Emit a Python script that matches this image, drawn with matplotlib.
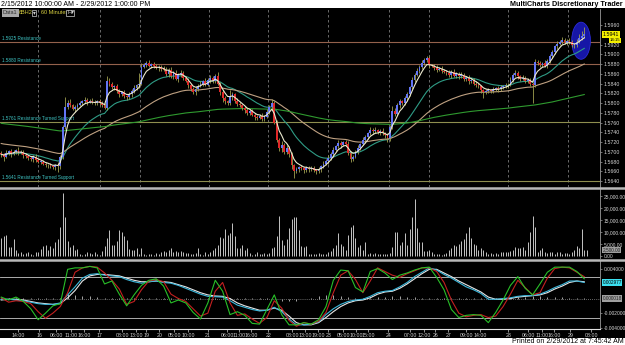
import numpy as np
import pandas as pd
import matplotlib
matplotlib.use('Agg')
import matplotlib.pyplot as plt
from matplotlib.patches import Ellipse, Rectangle
from matplotlib.lines import Line2D

plt.rcParams['font.family'] = ['Liberation Sans', 'DejaVu Sans']

# ---- data -----------------------------------------------------------------
base = 1.5600
# hourly closes, pips above 1.5600
close_pips = [95, 90, 98, 102, 96, 100, 104, 98,
              100, 94, 92, 88, 85, 90, 84, 80,
              80, 76, 72, 74, 70, 68, 74, 70,
              90, 150, 192,
              200, 195, 188, 192, 196, 200, 204, 206, 203, 205, 202, 200, 204, 201, 196, 190,
              245, 240, 232, 235, 225, 218, 222, 214,
              212, 218, 225, 230, 236,
              240, 274, 278, 282, 276, 280, 276, 272, 274, 270, 268,
              260, 268, 255, 262, 250, 258, 262, 252, 246,
              236, 228, 222, 228, 235,
              240, 245, 238, 248, 252, 246, 256,
              240, 222, 210, 204,
              200, 212, 218, 205, 198,
              195, 190, 186, 180, 183, 176, 172,
              170, 174, 168, 172,
              182, 192, 200,
              160, 125, 108,
              115, 100, 108, 95,
              72, 60,
              64, 68, 66, 63, 67, 64, 66, 62,
              60, 64, 70, 76, 82, 88,
              95, 104, 112, 118, 114, 120, 116,
              98, 86,
              90, 100, 108, 116, 124, 130,
              138, 145, 142, 144, 140, 143, 138, 134, 128,
              150, 184, 178, 195, 204, 200, 210, 218,
              232, 248, 258, 266, 274, 282, 288, 292,
              278, 276, 272, 268, 270, 266, 264,
              262, 258, 264, 256, 260, 255, 258,
              250, 252, 246, 248, 240, 238, 234,
              226, 222,
              224, 226, 225, 228, 230, 228, 232, 234, 236, 238,
              248, 258, 262,
              255, 250, 252, 246, 248,
              240, 236,
              284, 282,
              278, 282, 276, 286,
              296, 305, 316, 322,
              326, 330, 324, 328, 325,
              320, 318,
              326, 334, 338, 341]
open0 = 97
# wick lengths in pips above / below the body
hi_w = [4, 3, 5, 2, 4, 3, 2, 5, 3, 4, 3, 2, 4, 3, 5, 3, 2, 4, 3, 2,
        3, 4, 2, 5, 3, 4, 20, 6, 8, 4, 3, 5, 4, 3, 6, 4, 3, 5, 4, 3,
        4, 3, 5, 11, 6, 4, 3, 5, 4, 3, 4, 3, 5, 4, 6, 4, 22, 8, 5, 4,
        6, 3, 4, 5, 3, 4, 6, 5, 4, 6, 3, 5, 4, 6, 3, 4, 5, 3, 4, 6,
        4, 5, 3, 6, 4, 5, 3, 4, 8, 3, 4, 5, 3, 14, 4, 3, 5, 4, 3, 4,
        3, 5, 4, 3, 4, 3, 5, 4, 6, 4, 8, 5, 6, 3, 8, 4, 6, 3, 4, 3,
        4, 3, 5, 3, 4, 3, 4, 5, 3, 4, 3, 5, 4, 6, 4, 5, 3, 6, 4, 3,
        5, 6, 4, 3, 4, 5, 3, 6, 4, 3, 5, 4, 6, 3, 4, 5, 3, 4, 6, 10,
        5, 6, 4, 3, 5, 4, 3, 6, 4, 5, 3, 6, 4, 4, 5, 3, 4, 6, 3, 5,
        4, 3, 5, 4, 6, 3, 4, 5, 3, 4, 6, 3, 4, 5, 3, 4, 3, 4, 5, 3,
        4, 3, 5, 4, 3, 6, 4, 5, 3, 6, 4, 3, 5, 4, 3, 4, 3, 6, 4, 5,
        3, 6, 4, 5, 3, 4, 6, 3, 5, 4, 3, 5, 4, 3, 6, 8, 10, 15]
lo_w = [5, 8, 3, 4, 6, 3, 4, 5, 3, 6, 4, 5, 3, 6, 4, 3, 5, 4, 3, 6,
        4, 3, 5, 11, 6, 4, 3, 5, 4, 3, 6, 4, 3, 5, 4, 6, 3, 4, 5, 3,
        4, 5, 3, 4, 6, 3, 5, 4, 6, 3, 4, 5, 3, 6, 4, 3, 5, 4, 3, 4,
        3, 5, 4, 3, 6, 4, 3, 5, 6, 4, 5, 3, 6, 4, 5, 3, 6, 4, 3, 5,
        4, 3, 5, 4, 3, 6, 4, 5, 3, 6, 8, 5, 4, 3, 6, 4, 5, 3, 4, 6,
        4, 5, 3, 6, 4, 3, 5, 4, 3, 4, 6, 3, 5, 6, 8, 5, 4, 6, 8, 14,
        4, 5, 3, 6, 4, 5, 3, 4, 6, 3, 5, 4, 3, 6, 4, 5, 3, 4, 6, 3,
        4, 5, 6, 4, 3, 5, 4, 3, 6, 4, 3, 5, 4, 3, 6, 4, 5, 8, 6, 4,
        4, 3, 5, 4, 3, 5, 4, 3, 4, 3, 5, 4, 3, 4, 6, 3, 5, 4, 3, 4,
        3, 5, 4, 6, 3, 4, 5, 3, 4, 5, 6, 4, 3, 5, 4, 6, 12, 4, 3, 5,
        4, 3, 5, 4, 3, 4, 5, 3, 4, 3, 5, 4, 3, 5, 4, 6, 36, 4, 3, 5,
        4, 3, 5, 4, 3, 4, 5, 3, 4, 3, 5, 4, 6, 5, 4, 3, 5, 4]

volume = [7400, 8300, 8800, 3900, 3900, 7000, 2500, 1100, 1400, 800,
          1100, 1400, 800, 400, 1400, 1400, 2800, 4200, 4600, 2500,
          4200, 3200, 5600, 7000, 12200, 26100, 16400, 6000, 3900, 4600,
          2500, 2800, 800, 400, 800, 1800, 1100, 800, 1400, 800,
          400, 2200, 4200, 7400, 10800, 4600, 4600, 6000, 10800, 10100,
          8300, 6700, 2800, 2500, 2500, 3200, 800, 3200, 800, 400,
          800, 800, 400, 1100, 800, 1800, 2200, 1800, 2500, 3200,
          1800, 2200, 1800, 2100, 1400, 1100, 1100, 800, 800, 1100,
          3200, 800, 400, 1400, 800, 1800, 2500, 3200, 4600, 7800,
          7400, 11100, 8800, 9500, 13600, 8300, 3200, 3200, 4600, 2500,
          3200, 1100, 400, 800, 1400, 800, 800, 1100, 800, 1100,
          3200, 3900, 8300, 16700, 6700, 4600, 7000, 11500, 15300, 16400,
          16100, 10800,
          4200, 3900, 4200, 800, 800, 800, 800, 1100, 800, 800,
          800, 1400, 2200, 3200, 4600, 9500, 5000, 4200, 2500, 8800,
          12200, 12900, 7400, 3900, 4600, 2500, 5600, 800, 1100, 800,
          1100, 800, 800, 800, 800, 800, 1100, 3900, 10100, 10100,
          4600, 5600, 9700, 4600, 11100, 16400, 23800, 11500, 5600, 5600,
          2200, 2200, 2500, 1400, 800, 800, 800, 400, 800, 1100,
          2500, 3200, 4600, 4200, 5000, 6000, 7000, 9500, 12200, 7400,
          5000, 4600, 2500, 3200, 2500, 1400, 800, 1100, 800, 1100,
          800, 1400, 1800, 1400, 1400, 2200, 2500, 3900, 3200, 3200,
          3900, 2500, 5600, 10100, 16700, 12200, 1800, 2500, 3200, 1800,
          1100, 1800, 1400, 800, 1400, 1800, 800, 1100, 1100, 800,
          1800, 2500, 4200, 3200, 11100, 2500, 2500]

ma_span = [5, 20, 50, 200]
ma_seed = [95, 95, 118, 159]
ma_colors = ['#ecead0', '#2f9c86', '#bfa182', '#2f9a2f']

levels = [1.5925, 1.5880, 1.5761, 1.5641]
level_names = ['1.5925 Resistance', '1.5880 Resistance',
               '1.5761 Resistance Turned Support', '1.5641 Resistance Turned Support']
level_colors = ['#94614c', '#94614c', '#8e8e4e', '#8e8e4e']

# oscillator, read every 3rd bar (units of 0.001)
osc_step = 3
osc_green = [0.2, -0.2, 0.2, -0.4, -1.4, -2.9, -2.0, -1.0, -0.7, 4.0,
             4.2, 4.2, 4.4, 4.2, 2.0, 2.4, 0.6, -1.0, 0.5, 1.8,
             2.5, 2.7, 1.7, -0.6, -0.2, -0.6, -1.9, -2.8, -0.6, 2.5,
             1.0, -2.2, -1.8, -2.3, -3.4, -3.5, -1.5, 0.5, -2.2, -3.6,
             -3.6, -3.3, -3.5, -2.9, -1.1, 2.5, 3.9, 3.8, 1.5, 0.9,
             3.7, 4.1, 3.5, 2.6, 3.2, 3.5, 3.9, 4.2, 4.3, 2.9,
             1.2, -1.5, -2.6, -2.3, -2.2, -2.3, -3.3, -1.9, -0.2, 1.8,
             3.0, 1.4, 0.5, 2.0, 3.6, 4.3, 4.3, 4.3, 3.7, 2.7]
osc_red = [0.1, -0.5, -0.3, -0.4, -0.7, -1.8, -2.7, -2.0, -1.1, 0.8,
           3.6, 4.2, 4.4, 4.3, 3.5, 2.5, 1.3, -0.8, -0.4, 1.2,
           2.4, 2.6, 2.3, 0.6, 0.0, -0.4, -1.4, -2.4, -2.0, 1.0,
           2.2, -0.6, -2.3, -2.1, -2.8, -3.4, -2.6, -0.3, -1.3, -3.0,
           -3.8, -3.3, -3.5, -3.1, -1.9, 0.8, 3.2, 3.8, 2.6, 0.8,
           2.4, 4.2, 3.7, 3.2, 2.9, 3.4, 3.8, 4.2, 4.2, 3.7,
           2.2, -0.2, -2.0, -2.5, -2.3, -2.2, -2.6, -2.4, -1.1, 0.6,
           2.5, 1.5, 0.5, 0.8, 2.8, 4.1, 4.3, 4.2, 3.6, 3.0]
osc_cyan = [-0.1, -0.1, -0.2, -0.3, -0.5, -0.7, -0.8, -0.8, -0.6, 0.5,
            1.6, 2.8, 3.3, 3.4, 3.2, 3.1, 3.0, 2.6, 2.3, 2.1,
            2.3, 2.4, 2.2, 2.1, 1.8, 1.4, 1.0, 0.6, 0.3, 0.25,
            0.2, -0.3, -0.9, -1.2, -1.5, -1.7, -1.6, -1.2, -1.8, -2.8,
            -3.6, -3.6, -3.5, -3.2, -2.2, -1.4, -0.8, -0.4, -0.2, -0.1,
            0.3, 0.8, 1.0, 1.1, 1.6, 2.2, 3.0, 3.6, 4.2, 3.9,
            3.3, 2.8, 2.2, 1.6, 1.2, 0.7, -0.1, -0.1, 0.0, 0.1,
            0.3, 0.4, 0.4, 0.6, 1.0, 1.5, 1.9, 2.4, 2.4, 2.2]
osc_white = [-0.2, -0.1, -0.1, -0.2, -0.4, -0.6, -0.7, -0.8, -0.7, 0.1,
             1.1, 2.4, 3.1, 3.3, 3.3, 3.2, 3.1, 2.8, 2.5, 2.3,
             2.3, 2.4, 2.3, 2.2, 1.9, 1.6, 1.2, 0.8, 0.5, 0.35,
             0.3, 0.0, -0.6, -1.0, -1.3, -1.6, -1.6, -1.3, -1.6, -2.4,
             -3.3, -3.6, -3.6, -3.3, -2.6, -1.8, -1.1, -0.6, -0.3, -0.2,
             0.1, 0.6, 0.9, 1.0, 1.4, 2.0, 2.7, 3.4, 4.0, 4.0,
             3.5, 3.0, 2.4, 1.9, 1.4, 0.9, 0.2, -0.1, -0.1, 0.0,
             0.2, 0.3, 0.4, 0.5, 0.8, 1.3, 1.7, 2.2, 2.4, 2.3]
osc_hist = [0.05, 0.05, 0.05, 0.05, 0.05, 0.05, 0.05, 0.05, 0.05, 0.65,
            0.5, 0.4, 0.3, 0.2, 0.1, 0.05, 0.05, 0.05, 0.05, 0.05,
            0.05, 0.05, 0.05, 0.05, 0.05, 0.05, 0.05, 0.05, 0.05, 0.05,
            0.05, 0.05, 0.05, 0.05, 0.05, 0.05, 0.05, -0.1, -0.3, -0.4,
            -0.3, -0.1, 0.05, 0.4, 0.5, 0.45, 0.35, 0.25, 0.1, 0.05,
            0.1, 0.2, 0.25, 0.3, 0.3, 0.25, 0.2, 0.1, 0.05, 0.05,
            0.05, 0.05, 0.05, 0.05, 0.05, 0.05, 0.05, 0.05, 0.05, 0.1,
            0.2, 0.25, 0.3, 0.3, 0.25, 0.2, 0.15, 0.1, 0.05, 0.05]
osc_bands = [2.97, -2.7]
osc_value_labels = ['0.002977', '0.000018']

# x axis: day breaks and time labels (bar index)
day_breaks = [15, 40, 56.5, 84.5, 108.5, 133, 157.5, 174, 206, 230.5]
tick_pos = [7, 15.4, 22.4, 28.5, 33.7, 39.8, 49.2, 54.9, 58.9, 64.2, 70.3, 76, 84.1,
            91.9, 96.7, 101.6, 108.5, 118.3, 123.6, 128.9, 132.9, 139, 144.3, 149.2,
            157.3, 166.3, 172, 176.4, 181.7, 189, 194.7, 206.1, 214.2, 219.9, 224.8,
            231.3, 239.8]
tick_lab = ['14:00', '16', '06:00', '11:00', '16:00', '17', '08:00', '13:00', '19', '20',
            '05:00', '10:00', '21', '06:00', '11:00', '16:00', '22', '08:00', '13:00',
            '19:00', '23', '05:00', '10:00', '15:00', '24', '07:00', '12:00', '26', '27',
            '09:00', '14:00', '28', '06:00', '11:00', '16:00', '29', '08:00']

# ---- prep -----------------------------------------------------------------
c = base + np.array(close_pips) / 10000
o = np.r_[base + open0 / 10000, c[:-1]]
x = np.arange(len(c))
body_lo = np.minimum(o, c)
body_hi = np.maximum(o, c)
hi = body_hi + np.array(hi_w) / 10000
lo = body_lo - np.array(lo_w) / 10000
up = c >= o

W, H = 625, 345


def box(x0, y0, x1, y1):
    return [x0 / W, 1 - y1 / H, (x1 - x0) / W, (y1 - y0) / H]


fig = plt.figure(figsize=(W / 100, H / 100), dpi=100, facecolor='white')
fig.patches.append(Rectangle((0, 1 - 338 / H), 1, 330 / H, transform=fig.transFigure,
                             facecolor='black', edgecolor='none', zorder=-5))

ax_p = fig.add_axes(box(0, 9, 600, 187))
ax_v = fig.add_axes(box(0, 189, 600, 258))
ax_o = fig.add_axes(box(0, 261, 600, 329))
XL = (-0.5, 243.4)

for ax in (ax_p, ax_v, ax_o):
    ax.set_facecolor('black')
    ax.set_xlim(*XL)
    for s in ('top', 'left', 'bottom'):
        ax.spines[s].set_visible(False)
    ax.spines['right'].set_color('#9a9a9a')
    ax.spines['right'].set_linewidth(0.6)
    ax.yaxis.tick_right()
    ax.tick_params(axis='y', length=1.5, width=0.5, color='#a0a0a0', labelcolor='#d4d4d4',
                   labelsize=3.5, pad=1.2)
    ax.tick_params(axis='x', bottom=False, labelbottom=False)

# ---- price panel -----------------------------------------------------------
ax_p.set_ylim(1.56279, 1.59928)
for b in day_breaks:
    ax_p.axvline(b, color='#7a7a7a', lw=0.6, ls=(0, (3, 3)), zorder=1)
for lv, nm, col in zip(levels, level_names, level_colors):
    ax_p.axhline(lv, color=col, lw=0.8, zorder=1)
    ax_p.text(0.3, lv + 0.0002, nm, color='#3fc6c6', fontsize=3.3, va='bottom', ha='left')

ell = Ellipse((x[-1] - 1.3, c[-4:].mean() - 0.0007), width=7.6, height=0.0076,
              facecolor='#1616a6', edgecolor='#2c2cd8', lw=0.6, zorder=2)
ax_p.add_patch(ell)

for span, seed, col in zip(ma_span, ma_seed, ma_colors):
    s = pd.Series(np.r_[base + seed / 10000, c])
    ema = s.ewm(span=span, adjust=False).mean().values[1:]
    ax_p.plot(x, ema, color=col, lw=0.8, zorder=5 if span == 5 else 3)

ax_p.vlines(x, lo, hi, color='#a0a050', lw=0.6, zorder=3)
ax_p.bar(x, np.maximum(body_hi - body_lo, 0.00015), bottom=body_lo, width=0.75,
         color=np.where(up, '#6375f5', '#e02828'), lw=0, zorder=4)

pt = [v for v in np.arange(1.5640, 1.59601, 0.002) if abs(v - 1.5940) > 1e-6]
ax_p.set_yticks(pt)
ax_p.yaxis.set_major_formatter(plt.FormatStrFormatter('%.4f'))
ax_p.tick_params(axis='y', labelsize=3.8)
yt = ax_p.get_yaxis_transform()
ax_p.text(1.004, c[-1], f'{c[-1]:.4f}', transform=yt, fontsize=3.8, color='black',
          va='center', ha='left', bbox=dict(boxstyle='square,pad=0.15', fc='#f5f000', ec='none'))
ax_p.text(1.016, c[-1] - 0.0012, '14:15', transform=yt, fontsize=3.1, color='black',
          va='center', ha='left', bbox=dict(boxstyle='square,pad=0.1', fc='#f5f000', ec='none'))

# legend row
fig.text(3 / W, 1 - 13 / H, 'Data1', fontsize=4, color='#303030', va='center',
         bbox=dict(boxstyle='square,pad=0.2', fc='#a8a8a8', ec='none'))
fig.text(19 / W, 1 - 13 / H, '6BH2', fontsize=4, color='#d8d040', va='center')
fig.text(33 / W, 1 - 13 / H, '\u25be', fontsize=4, color='#d0d0d0', va='center',
         bbox=dict(boxstyle='square,pad=0.1', fc='black', ec='#d0d0d0', lw=0.5))
fig.text(41 / W, 1 - 13 / H, '60 Minutes', fontsize=4, color='#d8d040', va='center')
fig.text(67 / W, 1 - 13 / H, 'H\u25be', fontsize=4, color='#d0d0d0', va='center',
         bbox=dict(boxstyle='square,pad=0.1', fc='black', ec='#d0d0d0', lw=0.5))

# ---- volume panel ----------------------------------------------------------
xv = np.arange(len(volume))
ax_v.vlines(xv, 0, volume, color='#c4c4c4', lw=0.7)
ax_v.set_ylim(-900, 27900)
ax_v.set_yticks([0, 5000, 10000, 15000, 20000, 25000])
ax_v.set_yticklabels([f'{v:,.2f}' for v in [0, 5000, 10000, 15000, 20000, 25000]])
ax_v.text(1.004, volume[-1], f'{volume[-1]:,.2f}', transform=ax_v.get_yaxis_transform(),
          fontsize=3.4, color='#202020', va='center', ha='left',
          bbox=dict(boxstyle='square,pad=0.12', fc='#a0a0a0', ec='none'))

# ---- oscillator panel -------------------------------------------------------
xo = np.arange(len(osc_green)) * osc_step
k = 0.001
ax_o.set_ylim(-4.17 * k, 5.14 * k)
ax_o.axhline(0, color='#8a8a8a', lw=0.6, ls=(0, (1, 1.5)))
for bnd in osc_bands:
    ax_o.axhline(bnd * k, color='#c8c8c8', lw=0.6)
ax_o.vlines(xo, 0, np.array(osc_hist) * k, color='#a8a8a8', lw=0.7)
ax_o.plot(xo, np.array(osc_white) * k, color='#e6e6e6', lw=0.8)
ax_o.plot(xo, np.array(osc_cyan) * k, color='#3cb8dc', lw=0.8)
ax_o.plot(xo, np.array(osc_red) * k, color='#c42020', lw=0.8)
ax_o.plot(xo, np.array(osc_green) * k, color='#28c028', lw=0.8)
ax_o.set_yticks([-0.004, -0.002, 0.004])
ax_o.yaxis.set_major_formatter(plt.FormatStrFormatter('%.6f'))
yo = ax_o.get_yaxis_transform()
ax_o.text(1.004, osc_cyan[-1] * k, osc_value_labels[0], transform=yo, fontsize=3.4,
          color='black', va='center', ha='left',
          bbox=dict(boxstyle='square,pad=0.12', fc='#3ce0f0', ec='none'))
ax_o.text(1.004, 0, osc_value_labels[1], transform=yo, fontsize=3.4, color='#202020',
          va='center', ha='left', bbox=dict(boxstyle='square,pad=0.12', fc='#a0a0a0', ec='none'))

ax_o.spines['bottom'].set_visible(True)
ax_o.spines['bottom'].set_color('#e0e0e0')
ax_o.spines['bottom'].set_linewidth(0.8)
ax_o.set_xticks(tick_pos)
ax_o.set_xticklabels(tick_lab)
ax_o.tick_params(axis='x', bottom=True, labelbottom=True, length=2, width=0.5,
                 color='#d0d0d0', labelcolor='#d0d0d0', labelsize=3.8, pad=1.2)

# panel separators
for yy in (188, 259.5):
    fig.add_artist(Line2D([0, 1], [1 - yy / H] * 2, transform=fig.transFigure,
                          color='#b8b8b8', lw=1.8))

# ---- titles ---------------------------------------------------------------
fig.text(1 / W, 1 - 4.5 / H, '2/15/2012 10:00:00 AM - 2/29/2012 1:00:00 PM',
         fontsize=5.0, color='black', va='center', ha='left')
fig.text(623 / W, 1 - 4.5 / H, 'MultiCharts Discretionary Trader', fontsize=5.2,
         fontweight='bold', color='black', va='center', ha='right')
fig.text(624 / W, 1 - 341.5 / H, 'Printed on 2/29/2012 at 7:45:42 AM', fontsize=5.0,
         color='black', va='center', ha='right')

plt.savefig('out.png', dpi=100, facecolor='white')
